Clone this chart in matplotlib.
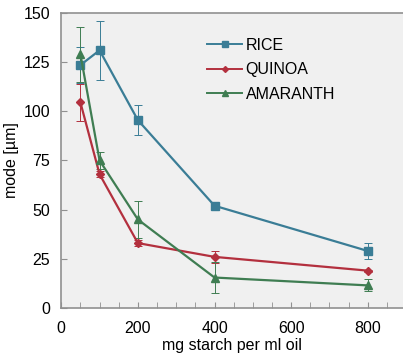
import matplotlib
matplotlib.use("Agg")
import matplotlib.pyplot as plt
from matplotlib.lines import Line2D
import numpy as np

plt.rcParams["font.family"] = ["Liberation Sans", "DejaVu Sans"]

x = [50, 100, 200, 400, 800]
rice = [123.5, 131, 95.5, 52, 29]
rice_err = [9, 15, 7.5, 1.5, 4]
quinoa = [104.5, 68, 33, 26, 19]
quinoa_err = [9.5, 1.5, 1.5, 3, 0.5]
amaranth = [129, 75, 45, 15.5, 11.5]
amaranth_err = [14, 4.5, 9.5, 8, 3]

names = ["RICE", "QUINOA", "AMARANTH"]
colors = ["#3A7D96", "#B3303E", "#3F7D52"]
markers = ["s", "D", "^"]
msizes = [6, 4, 6]

fig = plt.figure(figsize=(4.03, 3.59), dpi=100)
ax = fig.add_axes([0.152, 0.142, 0.848, 0.822])
ax.set_facecolor("#F0F0F0")

handles = []
for ys, es, n, c, m, ms in zip([rice, quinoa, amaranth], [rice_err, quinoa_err, amaranth_err], names, colors, markers, msizes):
    ax.errorbar(x, ys, yerr=es, color=c, marker=m, markersize=ms, lw=1.6,
                elinewidth=0.7, capsize=3, capthick=0.7, ecolor=c, alpha=1)
    handles.append(Line2D([], [], color=c, marker=m, markersize=ms * 0.75, lw=1.4, label=n))

ax.set_xlim(0, 892)
ax.set_ylim(0, 150)
ax.set_xticks([0, 200, 400, 600, 800])
ax.set_xticks(np.arange(0, 900, 50), minor=True)
ax.set_yticks([0, 25, 50, 75, 100, 125, 150])
ax.tick_params(axis="both", which="both", direction="in", color="#909090", labelsize=11.5)
ax.tick_params(axis="x", which="both", length=4, pad=9)
ax.tick_params(axis="y", length=4, pad=8)
for s in ["left", "bottom", "top"]:
    ax.spines[s].set_color("#909090")
    ax.spines[s].set_linewidth(1.2)
ax.spines["right"].set_visible(False)

ax.set_xlabel("mg starch per ml oil", fontsize=11.5, labelpad=2)
ax.set_ylabel("mode [µm]", fontsize=11.5, labelpad=3)

ax.legend(handles=handles, loc="upper left", bbox_to_anchor=(0.385, 0.965), frameon=False, fontsize=11.5,
          handlelength=2.2, handletextpad=0.2, labelspacing=0.6)

fig.savefig("out.png", dpi=100, facecolor="white")
